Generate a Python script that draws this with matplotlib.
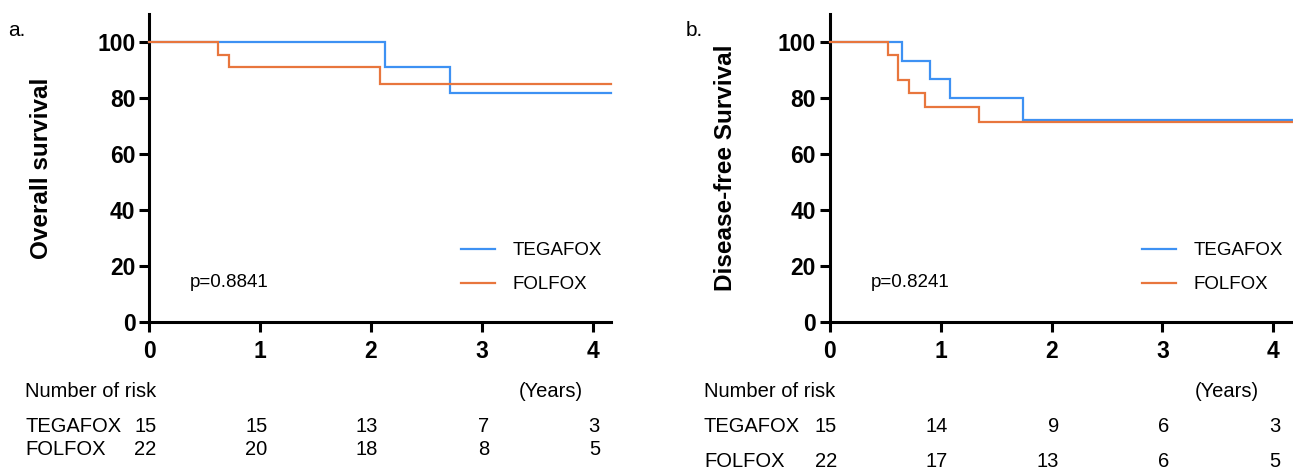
import matplotlib
matplotlib.use("Agg")
import matplotlib.pyplot as plt
import matplotlib.transforms as mtransforms

plt.rcParams['font.family'] = ['Liberation Sans', 'DejaVu Sans']

# ---- data ----
groups = ["TEGAFOX", "FOLFOX"]
os_teg_t = [0, 2.13, 2.71, 4.165]
os_teg_s = [100, 91.0, 81.9, 81.9]
os_fol_t = [0, 0.62, 0.72, 2.08, 4.165]
os_fol_s = [100, 95.5, 91.0, 85.0, 85.0]

dfs_teg_t = [0, 0.648, 0.906, 1.087, 1.746, 4.17]
dfs_teg_s = [100, 93.3, 86.7, 80.0, 72.2, 72.2]
dfs_fol_t = [0, 0.527, 0.617, 0.713, 0.861, 1.345, 4.17]
dfs_fol_s = [100, 95.5, 86.4, 81.7, 76.7, 71.6, 71.6]

risk_years = [0, 1, 2, 3, 4]
os_risk_teg = [15, 15, 13, 7, 3]
os_risk_fol = [22, 20, 18, 8, 5]
dfs_risk_teg = [15, 14, 9, 6, 3]
dfs_risk_fol = [22, 17, 13, 6, 5]

p_os = "p=0.8841"
p_dfs = "p=0.8241"

BLUE = "#3d91f3"
ORANGE = "#e8763d"

W, H = 1293, 471
fig = plt.figure(figsize=(W / 100, H / 100), dpi=100)

def px_axes(x0, x1, y_top, y_bot):
    return fig.add_axes([x0 / W, 1 - y_bot / H, (x1 - x0) / W, (y_bot - y_top) / H])

def style(ax, xmax, ylabel):
    ax.set_xlim(0, xmax)
    ax.set_ylim(0, 110)
    ax.set_xticks([0, 1, 2, 3, 4])
    ax.set_yticks([0, 20, 40, 60, 80, 100])
    for s in ["top", "right"]:
        ax.spines[s].set_visible(False)
    for s in ["left", "bottom"]:
        ax.spines[s].set_linewidth(2.2)
    ax.tick_params(width=2.2, length=7, labelsize=16.5)
    ax.tick_params(axis="y", pad=3)
    ax.tick_params(axis="x", pad=6)
    for lab in ax.get_xticklabels() + ax.get_yticklabels():
        lab.set_fontweight("bold")
    ax.set_ylabel(ylabel, fontsize=17.5, fontweight="bold")
    ax.patch.set_alpha(0)

def km(ax, t, s, color, label):
    ax.plot(t, s, drawstyle="steps-post", color=color, lw=1.6, label=label,
            solid_joinstyle="miter", clip_on=False, zorder=3)

# panel a
axA = px_axes(149.3, 611, 14, 322.3)
km(axA, os_teg_t, os_teg_s, BLUE, groups[0])
km(axA, os_fol_t, os_fol_s, ORANGE, groups[1])
style(axA, 4.165, "Overall survival")
axA.yaxis.set_label_coords(-0.208, 0.5)

# panel b
axB = px_axes(830, 1292, 14, 322.3)
km(axB, dfs_teg_t, dfs_teg_s, BLUE, groups[0])
km(axB, dfs_fol_t, dfs_fol_s, ORANGE, groups[1])
style(axB, 4.17, "Disease-free Survival")
axB.yaxis.set_label_coords(-0.201, 0.5)

for ax, ptxt in [(axA, p_os), (axB, p_dfs)]:
    ax.text(0.365, 14.3, ptxt, fontsize=13.5, va="center", ha="left")
    ax.legend(loc="lower right", bbox_to_anchor=(1.017, 0.04), frameon=False,
              fontsize=13.5, handlelength=1.8, handletextpad=0.96, labelspacing=0.89)

fig.text(8 / W, 1 - 31 / H, "a.", fontsize=15, va="center", ha="left")
fig.text(686 / W, 1 - 31 / H, "b.", fontsize=15, va="center", ha="left")

# risk tables
FS = 14.5
def risk_table(ax, x_left_px, y_head, y_r1, y_r2, r1, r2, years_x):
    tr = mtransforms.blended_transform_factory(ax.transData, fig.transFigure)
    fig.text(x_left_px / W, 1 - y_head / H, "Number of risk", fontsize=FS, va="baseline")
    fig.text(x_left_px / W, 1 - y_r1 / H, groups[0], fontsize=FS, va="baseline")
    fig.text(x_left_px / W, 1 - y_r2 / H, groups[1], fontsize=FS, va="baseline")
    ax.text(years_x, 1 - y_head / H, "(Years)", transform=tr, fontsize=FS, va="baseline", ha="right")
    for i, yr in enumerate(risk_years):
        xx = yr + 0.065
        ax.text(xx, 1 - y_r1 / H, str(r1[i]), transform=tr, fontsize=FS, va="baseline", ha="right")
        ax.text(xx, 1 - y_r2 / H, str(r2[i]), transform=tr, fontsize=FS, va="baseline", ha="right")

risk_table(axA, 25, 397, 432, 455, os_risk_teg, os_risk_fol, 3.91)
risk_table(axB, 704, 397, 432, 467, dfs_risk_teg, dfs_risk_fol, 3.87)

fig.savefig("out.png", dpi=100)
